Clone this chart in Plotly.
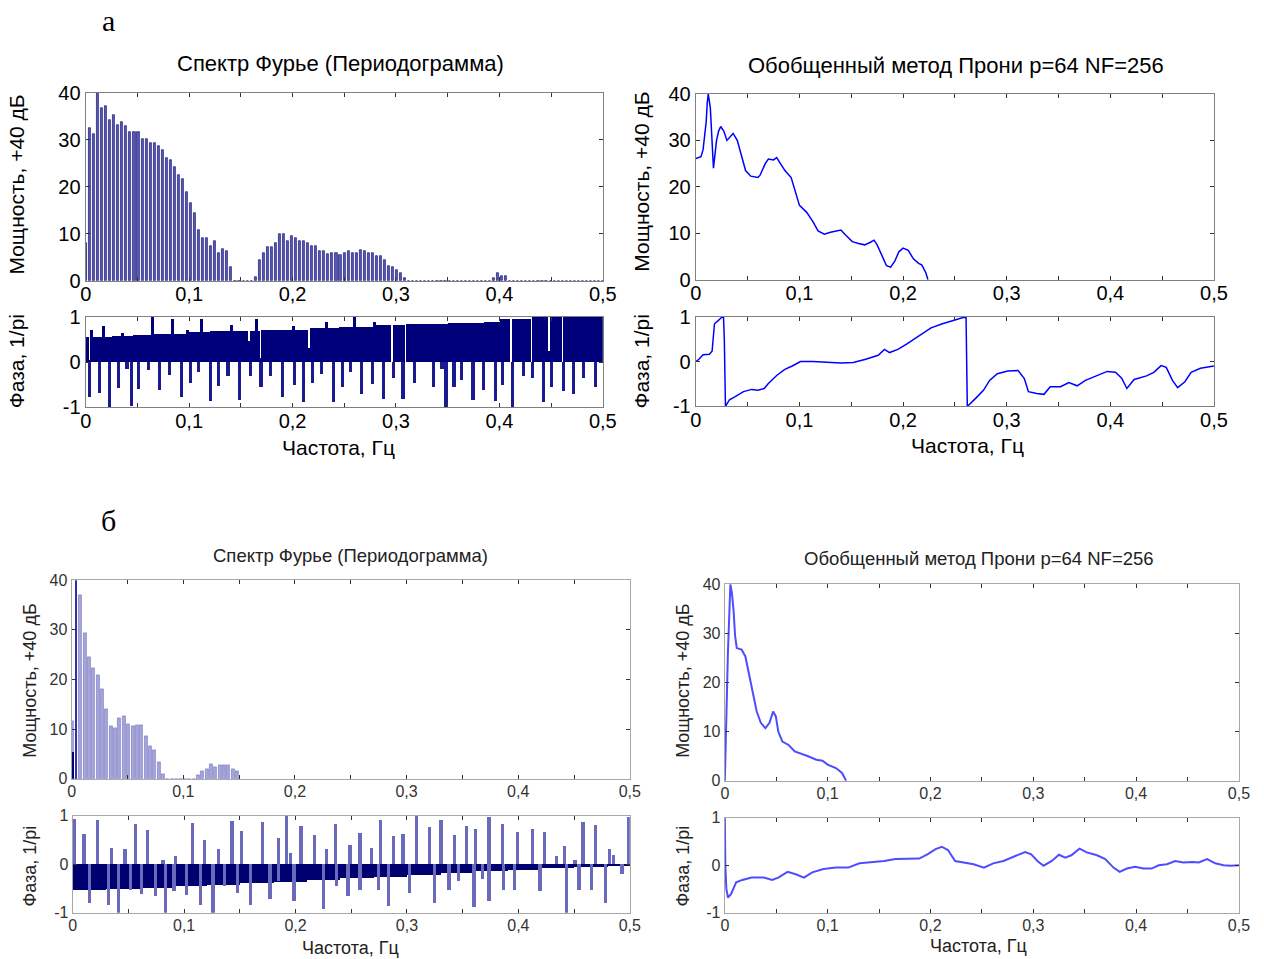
import numpy as np
import plotly.graph_objects as go

# ------------------------------------------------------------------ data
BIN = 256  # FFT bin spacing is 1/256 (frequency grid of the periodograms)

# panel "а": periodogram power (dB + 40), bins k = 0..128
pa_power = [8.0, 32.6, 31.2, 40.0, 36.7, 37.2, 34.2, 35.3, 33.1, 33.8,
            33.0, 31.6, 31.6, 31.6, 30.1, 30.1, 29.4, 29.4, 28.7, 27.9,
            26.2, 25.8, 24.3, 22.5, 21.6, 18.9, 16.6, 14.5, 10.8, 9.2,
            9.2, 7.5, 8.5, 6.0, 6.7, 6.4, 3.0, 0, 0, 0,
            0, 0, 0.8, 4.5, 6.0, 7.2, 7.2, 8.1, 9.9, 9.9,
            8.4, 9.5, 9.1, 8.4, 8.4, 8.1, 7.4, 7.4, 6.3, 6.3,
            5.6, 6.0, 6.0, 5.5, 6.0, 6.3, 6.0, 6.0, 6.6, 6.3,
            6.0, 6.0, 5.3, 5.3, 4.4, 3.1, 3.0, 2.3, 1.6, 0.5,
            0, 0, 0, 0, 0, 0, 0, 0, 0, 0,
            0, 0, 0, 0, 0, 0, 0, 0, 0, 0,
            0, 0.6, 1.6, 0.9, 0.9, 0, 0, 0, 0, 0,
            0, 0, 0, 0, 0, 0, 0, 0, 0, 0,
            0, 0, 0, 0, 0, 0, 0, 0, 0]

# panel "а": periodogram phase (1/pi) - dense part as steps (start freq, level)
pa_ph_step_f = [0.000, 0.003, 0.0045, 0.010, 0.025, 0.045, 0.065, 0.100, 0.120, 0.157,
                0.1585, 0.168, 0.1695, 0.215, 0.2165, 0.245, 0.280, 0.295, 0.2965, 0.308,
                0.3095, 0.350, 0.385, 0.400, 0.410, 0.4115, 0.430, 0.4315, 0.440, 0.447,
                0.4485, 0.460, 0.4615]
pa_ph_step_v = [0.55, 0.05, 0.55, 0.56, 0.58, 0.61, 0.63, 0.66, 0.69, 0.47,
                0.69, 0.10, 0.72, 0.32, 0.76, 0.78, 0.82, 0.0, 0.82, 0.0,
                0.85, 0.87, 0.90, 0.95, 0.0, 0.95, 0.0, 0.99, 1.0, 0.25,
                1.0, 0.0, 1.0]
pa_ph_up_f = [0.005, 0.0165, 0.0354, 0.0646, 0.0835, 0.098, 0.1115, 0.1404, 0.1646, 0.2008,
              0.2327, 0.2596, 0.2788, 0.3865]
pa_ph_up_v = [0.72, 0.80, 0.65, 1.0, 0.95, 0.72, 0.95, 0.82, 0.95, 0.80,
              0.88, 1.0, 0.90, 0.90]
pa_ph_dn_f = [0.0038, 0.0127, 0.0223, 0.0315, 0.0396, 0.0442, 0.0508, 0.0604, 0.0712, 0.0808,
              0.0923, 0.1008, 0.1085, 0.1200, 0.1277, 0.1373, 0.1481, 0.1588, 0.1692, 0.1788,
              0.1896, 0.2012, 0.2104, 0.2192, 0.2281, 0.2396, 0.2481, 0.2558, 0.2665, 0.2769,
              0.2873, 0.2969, 0.3065, 0.3173, 0.3358, 0.3442, 0.3481, 0.3558, 0.3635, 0.3742,
              0.3846, 0.3962, 0.4027, 0.4125, 0.4231, 0.4319, 0.4423, 0.4500, 0.4615, 0.4712,
              0.4808, 0.4923]
pa_ph_dn_v = [-0.75, -0.68, -1.0, -0.57, -0.15, -0.97, -0.58, -0.17, -0.60, -0.27,
              -0.75, -0.46, -0.20, -0.85, -0.52, -0.30, -0.83, -0.30, -0.53, -0.30,
              -0.75, -0.50, -0.88, -0.45, -0.25, -0.88, -0.55, -0.20, -0.70, -0.48,
              -0.80, -0.35, -0.80, -0.45, -0.55, -0.15, -1.0, -0.55, -0.38, -0.83,
              -0.60, -0.85, -0.50, -1.0, -0.30, -0.35, -0.88, -0.55, -0.62, -0.70,
              -0.35, -0.55]

# panel "а": generalized Prony method, power and phase
pa_prony_f = [0.000, 0.005, 0.007, 0.008, 0.010, 0.011, 0.012, 0.014, 0.017, 0.020,
              0.022, 0.024, 0.027, 0.030, 0.034, 0.036, 0.040, 0.044, 0.048, 0.053,
              0.060, 0.062, 0.067, 0.070, 0.075, 0.078, 0.082, 0.086, 0.092, 0.097,
              0.100, 0.107, 0.113, 0.118, 0.124, 0.130, 0.140, 0.145, 0.151, 0.157,
              0.163, 0.168, 0.172, 0.175, 0.180, 0.184, 0.188, 0.192, 0.196, 0.200,
              0.205, 0.210, 0.215, 0.218, 0.222, 0.224]
pa_prony_p = [26.1, 26.5, 28.0, 30.0, 34.0, 38.0, 40.0, 37.0, 24.0, 30.0,
              32.0, 33.0, 32.0, 30.0, 31.0, 31.5, 30.0, 27.0, 23.5, 22.3,
              22.0, 22.5, 25.0, 26.0, 25.8, 26.3, 25.0, 23.5, 22.0, 18.0,
              16.0, 14.5, 12.5, 10.5, 9.8, 10.2, 10.7, 9.5, 8.2, 7.8,
              7.5, 8.0, 8.5, 7.5, 5.0, 3.0, 2.7, 4.0, 6.0, 6.8,
              6.3, 4.5, 3.5, 3.2, 1.5, 0.0]
pa_prony_phf = [0.000, 0.003, 0.007, 0.013, 0.0157, 0.018, 0.0216, 0.0247, 0.0267, 0.0275,
                0.0286, 0.0325, 0.038, 0.046, 0.054, 0.060, 0.066, 0.070, 0.078, 0.0855,
                0.093, 0.101, 0.113, 0.125, 0.140, 0.152, 0.164, 0.176, 0.182, 0.187,
                0.195, 0.203, 0.215, 0.227, 0.238, 0.250, 0.258, 0.2608, 0.2612, 0.262,
                0.270, 0.2776, 0.2835, 0.291, 0.301, 0.311, 0.317, 0.321, 0.329, 0.336,
                0.342, 0.352, 0.360, 0.368, 0.376, 0.387, 0.397, 0.405, 0.411, 0.416,
                0.423, 0.435, 0.442, 0.449, 0.454, 0.460, 0.465, 0.472, 0.478, 0.487,
                0.500]
pa_prony_ph = [0.0, 0.05, 0.15, 0.16, 0.23, 0.84, 0.91, 0.98, 1.0, 0.49,
               -1.0, -0.85, -0.78, -0.67, -0.62, -0.64, -0.60, -0.49, -0.31, -0.18,
               -0.10, 0.0, 0.0, -0.02, -0.03, -0.02, 0.05, 0.14, 0.27, 0.20,
               0.27, 0.38, 0.56, 0.75, 0.84, 0.93, 0.98, 0.98, 0.49, -1.0,
               -0.82, -0.64, -0.42, -0.27, -0.21, -0.20, -0.38, -0.67, -0.71, -0.73,
               -0.56, -0.56, -0.47, -0.54, -0.42, -0.31, -0.22, -0.24, -0.37, -0.60,
               -0.40, -0.32, -0.24, -0.09, -0.13, -0.42, -0.58, -0.45, -0.24, -0.15,
               -0.10]

# panel "б": periodogram power (dB + 40), bins k = 0..38
pb_power = [11.6, 40.0, 36.9, 29.3, 24.5, 22.2, 20.8, 18.0, 14.1, 10.7,
            10.2, 12.3, 12.6, 11.1, 10.6, 10.9, 10.9, 8.6, 6.6, 5.7,
            3.4, 0.9, 0, 0, 0, 0, 0, 0, 0, 0.8,
            1.5, 2.0, 3.0, 2.4, 2.8, 2.8, 2.8, 2.0, 1.6]
pb_power_dc_dark = 5.4

# panel "б": periodogram phase (1/pi)
pb_ph_step_f = [0.00, 0.03, 0.06, 0.09, 0.12, 0.15, 0.18, 0.21, 0.24, 0.27,
                0.30, 0.33, 0.36, 0.39, 0.42, 0.45, 0.48]
pb_ph_step_v = [-0.53, -0.51, -0.48, -0.45, -0.42, -0.39, -0.36, -0.33, -0.29, -0.25,
                -0.21, -0.17, -0.14, -0.11, -0.08, -0.06, -0.03]
pb_ph_up_f = [0.0015, 0.0099, 0.0220, 0.0345, 0.0466, 0.0558, 0.0668, 0.0808, 0.0918, 0.1072,
              0.1182, 0.1303, 0.1428, 0.1512, 0.1703, 0.1843, 0.1916, 0.1953, 0.2045, 0.2166,
              0.2276, 0.2357, 0.2485, 0.2577, 0.2680, 0.2761, 0.2878, 0.2963, 0.3084, 0.3201,
              0.3304, 0.3421, 0.3532, 0.3612, 0.3734, 0.3855, 0.3990, 0.4126, 0.4229, 0.4339,
              0.4413, 0.4504, 0.4578, 0.4688, 0.4816, 0.4853, 0.4989]
pb_ph_up_v = [0.93, 0.62, 0.92, 0.34, 0.31, 0.83, 0.71, 0.10, 0.17, 0.86,
              0.50, 0.32, 0.90, 0.69, 0.88, 0.55, 1.0, 0.23, 0.79, 0.60,
              0.31, 0.83, 0.41, 0.64, 0.34, 0.92, 0.59, 0.62, 1.0, 0.78,
              0.92, 0.60, 0.79, 0.74, 0.97, 0.83, 0.66, 0.74, 0.66, 0.17,
              0.38, 0.10, 0.88, 0.81, 0.31, 0.20, 0.97]
pb_ph_dn_f = [0.0147, 0.0319, 0.0411, 0.0514, 0.0613, 0.0742, 0.0833, 0.0907, 0.1017, 0.1145,
              0.1256, 0.1358, 0.1476, 0.1593, 0.1769, 0.1843, 0.1982, 0.2247, 0.2364, 0.2467,
              0.2577, 0.2742, 0.2834, 0.3018, 0.3245, 0.3374, 0.3458, 0.3598, 0.3678, 0.3734,
              0.3862, 0.3965, 0.4192, 0.4431, 0.4541, 0.4651, 0.4780, 0.4927]
pb_ph_dn_v = [-0.79, -0.83, -1.0, -0.52, -0.62, -0.66, -1.0, -0.55, -0.64, -0.83,
              -1.0, -0.45, -0.59, -0.83, -0.72, -0.34, -0.76, -0.92, -0.45, -0.66,
              -0.52, -0.52, -0.86, -0.59, -0.79, -0.52, -0.34, -0.88, -0.31, -0.76,
              -0.52, -0.52, -0.55, -1.0, -0.52, -0.52, -0.79, -0.20]

# panel "б": generalized Prony method, power and phase
pb_prony_f = [0.000, 0.0008, 0.0016, 0.0030, 0.0054, 0.0070, 0.0085, 0.0100, 0.0116, 0.0163,
              0.0200, 0.0230, 0.0270, 0.0310, 0.0350, 0.0395, 0.0434, 0.0470, 0.0496, 0.0520,
              0.0560, 0.0620, 0.0680, 0.0736, 0.0810, 0.0890, 0.0950, 0.1000, 0.1080, 0.1140,
              0.1180]
pb_prony_p = [0.0, 8.0, 16.0, 26.0, 40.0, 38.0, 34.6, 29.5, 27.0, 26.7,
              25.3, 22.3, 18.2, 14.1, 11.8, 10.7, 11.8, 14.1, 13.1, 10.0,
              8.0, 7.3, 6.0, 5.6, 5.0, 4.3, 4.1, 3.3, 2.6, 1.6,
              0.0]
pb_prony_phf = [0.000, 0.0005, 0.0015, 0.003, 0.006, 0.011, 0.017, 0.026, 0.038, 0.046,
                0.052, 0.061, 0.069, 0.077, 0.085, 0.096, 0.108, 0.120, 0.131, 0.143,
                0.155, 0.166, 0.178, 0.189, 0.197, 0.205, 0.211, 0.217, 0.224, 0.232,
                0.242, 0.252, 0.261, 0.271, 0.283, 0.292, 0.298, 0.304, 0.310, 0.318,
                0.325, 0.331, 0.337, 0.345, 0.352, 0.362, 0.370, 0.378, 0.384, 0.391,
                0.399, 0.407, 0.415, 0.422, 0.430, 0.438, 0.446, 0.455, 0.461, 0.469,
                0.477, 0.485, 0.492, 0.500]
pb_prony_ph = [1.0, 0.0, -0.5, -0.68, -0.61, -0.36, -0.31, -0.26, -0.26, -0.31,
               -0.26, -0.14, -0.19, -0.26, -0.15, -0.08, -0.05, -0.05, 0.04, 0.06,
               0.09, 0.13, 0.14, 0.14, 0.23, 0.34, 0.39, 0.32, 0.09, 0.06,
               0.02, -0.05, 0.04, 0.09, 0.20, 0.28, 0.23, 0.09, -0.01, 0.09,
               0.22, 0.16, 0.21, 0.35, 0.27, 0.21, 0.13, -0.05, -0.14, -0.07,
               -0.03, -0.07, -0.07, 0.0, 0.02, 0.09, 0.06, 0.07, 0.06, 0.13,
               0.04, 0.0, -0.01, 0.0]

# tick labels
x_tickvals = [0, 0.05, 0.1, 0.15, 0.2, 0.25, 0.3, 0.35, 0.4, 0.45, 0.5]
x_ticktext = ["0", "", "0,1", "", "0,2", "", "0,3", "", "0,4", "", "0,5"]
pow_tickvals = [0, 10, 20, 30, 40]
pow_ticktext = ["0", "10", "20", "30", "40"]
ph_tickvals = [-1, 0, 1]
ph_ticktext = ["-1", "0", "1"]

title_fourier = "Спектр Фурье (Периодограмма)"
title_prony = "Обобщенный метод Прони p=64 NF=256"
xlabel = "Частота, Гц"
ylabel_pow = "Мощность, +40 дБ"
ylabel_ph = "Фаза, 1/pi"

# ------------------------------------------------------------------ figure
W, H = 1264, 975
FONT = "Liberation Sans, Arial, sans-serif"
SERIF = "Liberation Serif, Times New Roman, serif"

# layout calibration: positions below are given in reference-picture pixels,
# converted to figure pixels (measured from earlier renders)
CAL_X = (0.984, 5.3)
CAL_Y = (0.979, 8.9)


def fx(px):
    return (px - CAL_X[1]) / CAL_X[0]


def fy(py):
    return (py - CAL_Y[1]) / CAL_Y[0]


def xdom(a, b):
    return [fx(a) / W, fx(b) / W]


def ydom(top, bottom):
    return [1 - fy(bottom) / H, 1 - fy(top) / H]


def steps(f_list, v_list):
    """Turn (start, level) steps into bar starts and widths ending at 0.5."""
    ends = list(f_list[1:]) + [0.5]
    widths = [e - s for s, e in zip(f_list, ends)]
    return list(f_list), widths


fig = go.Figure()

# ---- panel а, left top: periodogram bars
k_a = np.arange(len(pa_power)) / BIN
bar_colors_a = ["#000070"] + ["#5a5ab4"] * (len(pa_power) - 1)
fig.add_trace(go.Bar(x=k_a, y=pa_power, width=0.52 / BIN,
                     marker=dict(color=bar_colors_a, line=dict(color="#000070", width=0.6)),
                     xaxis="x", yaxis="y"))

# ---- panel а, left bottom: phase
sx, sw = steps(pa_ph_step_f, pa_ph_step_v)
fig.add_trace(go.Bar(x=sx, y=pa_ph_step_v, width=sw, offset=0,
                     marker=dict(color="#00007a", line=dict(width=0)),
                     xaxis="x2", yaxis="y2"))
fig.add_trace(go.Bar(x=pa_ph_up_f, y=pa_ph_up_v, width=0.003,
                     marker=dict(color="#00007a", line=dict(width=0)),
                     xaxis="x2", yaxis="y2"))
fig.add_trace(go.Bar(x=pa_ph_dn_f, y=pa_ph_dn_v, width=0.003,
                     marker=dict(color="#1a1a90", line=dict(width=0)),
                     xaxis="x2", yaxis="y2"))

# ---- panel а, right: Prony
fig.add_trace(go.Scatter(x=pa_prony_f, y=pa_prony_p, mode="lines",
                         line=dict(color="#0000ff", width=1.5), xaxis="x3", yaxis="y3"))
fig.add_trace(go.Scatter(x=pa_prony_phf, y=pa_prony_ph, mode="lines",
                         line=dict(color="#0000ff", width=1.5), xaxis="x4", yaxis="y4"))

# ---- panel б, left top: periodogram bars
k_b = np.arange(len(pb_power)) / BIN
pb_light = [v if i != 1 else 0 for i, v in enumerate(pb_power)]
fig.add_trace(go.Bar(x=k_b, y=pb_light, width=0.7 / BIN,
                     marker=dict(color="#a6a6da", line=dict(color="#7070c0", width=0.6)),
                     xaxis="x5", yaxis="y5"))
fig.add_trace(go.Bar(x=[k_b[1]], y=[pb_power[1]], width=0.25 / BIN,
                     marker=dict(color="#3030a8", line=dict(width=0)),
                     xaxis="x5", yaxis="y5"))
fig.add_trace(go.Bar(x=[k_b[0]], y=[pb_power_dc_dark], width=0.7 / BIN,
                     marker=dict(color="#000070", line=dict(width=0)),
                     xaxis="x5", yaxis="y5"))

# ---- panel б, left bottom: phase
sx, sw = steps(pb_ph_step_f, pb_ph_step_v)
fig.add_trace(go.Bar(x=sx, y=pb_ph_step_v, width=sw, offset=0,
                     marker=dict(color="#000070", line=dict(width=0)),
                     xaxis="x6", yaxis="y6"))
fig.add_trace(go.Bar(x=pb_ph_up_f, y=pb_ph_up_v, width=0.003,
                     marker=dict(color="#6a6abc", line=dict(width=0)),
                     xaxis="x6", yaxis="y6"))
fig.add_trace(go.Bar(x=pb_ph_dn_f, y=pb_ph_dn_v, width=0.003,
                     marker=dict(color="#6a6abc", line=dict(width=0)),
                     xaxis="x6", yaxis="y6"))

# ---- panel б, right: Prony
fig.add_trace(go.Scatter(x=pb_prony_f, y=pb_prony_p, mode="lines",
                         line=dict(color="#4d4dff", width=2), xaxis="x7", yaxis="y7"))
fig.add_trace(go.Scatter(x=pb_prony_phf, y=pb_prony_ph, mode="lines",
                         line=dict(color="#4d4dff", width=2), xaxis="x8", yaxis="y8"))

# ------------------------------------------------------------------ axes
boxes = {
    # id: (left, right, top, bottom, kind, panel)  -- reference pixels
    1: (85, 602, 91, 279, "pow", "a"),
    2: (85, 602, 315, 406, "ph", "a"),
    3: (695, 1213, 92, 278, "pow", "a"),
    4: (695, 1213, 315, 405, "ph", "a"),
    5: (71, 629, 579, 778, "pow", "b"),
    6: (72, 629, 815, 912, "ph", "b"),
    7: (724, 1238, 583, 780, "pow", "b"),
    8: (724, 1238, 817, 912, "ph", "b"),
}

layout_axes = {}
for i, (l, r, t, b, kind, panel) in boxes.items():
    tsize = 20 if panel == "a" else 16
    lcol = "#808080" if panel == "a" else "#a8a8a8"
    tcol = "#000" if panel == "a" else "#333"
    common = dict(ticks="inside", ticklen=4, tickwidth=1, tickcolor="#333",
                  showline=True, linecolor=lcol, linewidth=1.2, mirror="ticks",
                  showgrid=False, zeroline=False, fixedrange=True,
                  tickfont=dict(family=FONT, size=tsize, color=tcol))
    xname = "xaxis" if i == 1 else f"xaxis{i}"
    yname = "yaxis" if i == 1 else f"yaxis{i}"
    xa = dict(domain=xdom(l, r), range=[0, 0.5], tickvals=x_tickvals, ticktext=x_ticktext,
              ticklabelstandoff=-5 if panel == "a" else -2,
              anchor="y" if i == 1 else f"y{i}", **common)
    if kind == "pow":
        ya = dict(domain=ydom(t, b), range=[0, 40], tickvals=pow_tickvals, ticktext=pow_ticktext,
                  anchor="x" if i == 1 else f"x{i}", **common)
    else:
        ya = dict(domain=ydom(t, b), range=[-1, 1], tickvals=ph_tickvals, ticktext=ph_ticktext,
                  anchor="x" if i == 1 else f"x{i}", **common)
    layout_axes[xname] = xa
    layout_axes[yname] = ya

# ------------------------------------------------------------------ texts
ann = []


def text(x, y, s, size, angle=0, family=FONT, color="#000"):
    ann.append(dict(x=x / W, y=1 - y / H, xref="paper", yref="paper", text=s,
                    showarrow=False, textangle=angle, xanchor="center", yanchor="middle",
                    font=dict(family=family, size=size, color=color)))


# (figure pixel positions)
text(fx(108), fy(22) - 3.5, "а", 30, family=SERIF)
text(fx(108), fy(521) - 2, "б", 30, family=SERIF)

# panel а
text(fx(340), fy(64) - 2.4, title_fourier, 22)
text(fx(955), fy(66) - 2.5, title_prony, 22)
text(fx(338), fy(446), xlabel, 21)
text(fx(967), fy(444), xlabel, 21)
text(fx(18) - 2, fy(183), ylabel_pow, 21, -90)
text(fx(18) - 2, fy(360), ylabel_ph, 21, -90)
text(fx(643) - 2, fy(180), ylabel_pow, 21, -90)
text(fx(643) - 2, fy(360), ylabel_ph, 21, -90)

# panel б
GREY = "#222"
text(fx(350), fy(555) - 1, title_fourier, 18.5, color=GREY)
text(fx(978), fy(558) - 1, title_prony, 18.5, color=GREY)
text(fx(350), fy(947), xlabel, 18, color=GREY)
text(fx(978), fy(945), xlabel, 18, color=GREY)
text(fx(30) - 1, fy(680), ylabel_pow, 18, -90, color=GREY)
text(fx(30) - 1, fy(865), ylabel_ph, 18, -90, color=GREY)
text(fx(683) - 1, fy(680), ylabel_pow, 18, -90, color=GREY)
text(fx(683) - 1, fy(865), ylabel_ph, 18, -90, color=GREY)

fig.update_layout(width=W, height=H, autosize=False,
                  margin=dict(l=0, r=0, t=0, b=0),
                  paper_bgcolor="white", plot_bgcolor="white",
                  showlegend=False, barmode="overlay", bargap=0,
                  annotations=ann, **layout_axes)

fig.write_html("out.html", config={"displayModeBar": False},
               post_script="document.body.style.margin='0';document.body.style.overflow='hidden';")
